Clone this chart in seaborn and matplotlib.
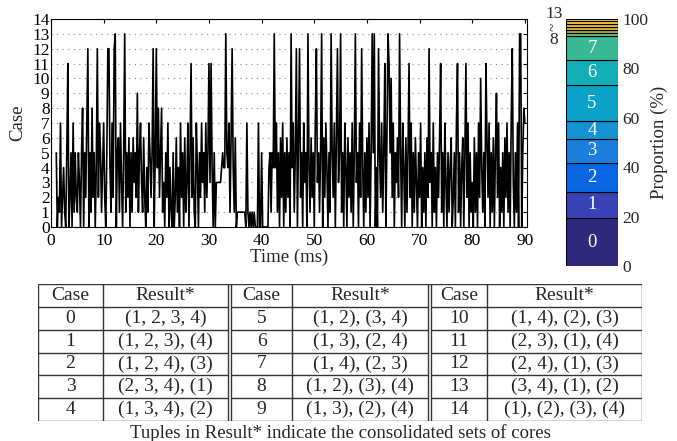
import numpy as np
import pandas as pd
import matplotlib
matplotlib.use("Agg")
import matplotlib.pyplot as plt
import seaborn as sns

sns.set_theme(style="white")
plt.rcParams["font.family"] = ["Liberation Serif", "DejaVu Serif"]
plt.rcParams["mathtext.fontset"] = "stix"

# ---------------- data ----------------
time_start_ms = 1.0
time_step_ms = 0.2
case_seq = [
    5, 0, 2, 1, 7,     0, 2, 4, 1, 0,     5, 11, 0, 2, 5,    0, 7, 1, 5, 2,
    1, 5, 3, 0, 5,     8, 0, 5, 2, 7,     12, 0, 5, 1, 8,    2, 5, 0, 4, 12,
    2, 7, 5, 1, 4,     7, 2, 0, 5, 12,    12, 4, 1, 7, 2,    12, 13, 0, 5, 6,
    1, 7, 3, 0, 5,     13, 1, 5, 2, 6,    0, 5, 1, 6, 3,     5, 2, 9, 1, 5,
    7, 3, 1, 6, 2,     0, 4, 1, 7, 5,     2, 5, 12, 0, 5,    12, 4, 8, 2, 5,
    8, 1, 3, 0, 5,     2, 7, 0, 4, 1,     0, 5, 0, 2, 6,     1, 4, 0, 7, 2,
    5, 0, 6, 1, 3,     7, 0, 5, 11, 2,    6, 1, 0, 7, 4,     0, 5, 2, 7, 3,
    5, 1, 7, 2, 5,     11, 3, 11, 4, 0,   5, 0, 3, 3, 3,     3, 3, 4, 5, 4,
    4, 13, 5, 4, 7,    1, 6, 12, 4, 1,    6, 0, 1, 1, 1,     1, 1, 1, 1, 1,
    0, 7, 1, 0, 1,     0, 1, 0, 1, 0,     0, 0, 7, 0, 0,     5, 0, 0, 0, 0,
    0, 0, 4, 5, 1,     5, 4, 13, 4, 7,    1, 5, 0, 6, 2,     7, 0, 5, 1, 6,
    2, 5, 0, 13, 4,    7, 1, 5, 12, 0,    6, 12, 2, 5, 0,    7, 3, 5, 0, 13,
    4, 1, 6, 2, 5,     0, 7, 12, 3, 5,    1, 5, 13, 0, 6,    2, 7, 4, 0, 5,
    1, 13, 5, 2, 7,    0, 6, 12, 3, 5,    13, 1, 5, 0, 7,    4, 0, 6, 2, 5,
    1, 7, 0, 5, 13,    3, 5, 0, 7, 2,     12, 4, 0, 5, 1,    6, 2, 7, 0, 5,
    13, 5, 13, 0, 4,   0, 12, 5, 2, 7,    1, 5, 11, 0, 6,    13, 11, 5, 10, 2,
    7, 0, 5, 3, 6,     2, 13, 5, 0, 7,    4, 0, 6, 1, 5,     11, 2, 7, 0, 5,
    1, 6, 3, 0, 5,     2, 7, 0, 4, 1,     5, 0, 6, 2, 12,    3, 5, 0, 7, 1,
    4, 0, 5, 2, 6,     11, 1, 5, 0, 7,    3, 0, 5, 1, 4,     6, 0, 2, 5, 0,
    7, 11, 1, 5, 0,    4, 6, 0, 5, 11,    2, 7, 0, 5, 1,     3, 0, 6, 1, 5,
    0, 7, 2, 10, 4,    1, 5, 0, 11, 6,    2, 7, 0, 5, 1,     6, 0, 5, 9, 2,
    7, 0, 4, 1, 5,     0, 6, 2, 7, 1,     5, 0, 7, 12, 3,    0, 5, 1, 7, 0,
    13, 13, 0, 5, 8,   7,
]
time_ms = time_start_ms + time_step_ms * np.arange(len(case_seq))

prop_cases = list(range(14))
prop_pct = [19.3, 10.8, 11.8, 9.5, 7.3, 14.5, 10.1, 9.7, 1.5, 1.0, 1.3, 1.2, 1.0, 1.0]
prop_colors = ["#2e2a7e", "#3743b4", "#0866e2", "#1c7edd", "#1592d2", "#0aa2c8",
               "#14afb6", "#38b896", "#6fc072", "#a8a84a", "#e8b240", "#f2bb3c",
               "#f7c443", "#fbcd4a"]

table_cases = list(range(15))
table_results = ["(1, 2, 3, 4)", "(1, 2, 3), (4)", "(1, 2, 4), (3)", "(2, 3, 4), (1)",
                 "(1, 3, 4), (2)", "(1, 2), (3, 4)", "(1, 3), (2, 4)", "(1, 4), (2, 3)",
                 "(1, 2), (3), (4)", "(1, 3), (2), (4)", "(1, 4), (2), (3)",
                 "(2, 3), (1), (4)", "(2, 4), (1), (3)", "(3, 4), (1), (2)",
                 "(1), (2), (3), (4)"]
caption = "Tuples in Result* indicate the consolidated sets of cores"

# ---------------- figure ----------------
W, H = 677, 441
fig = plt.figure(figsize=(W / 100, H / 100), dpi=100)
fig.patch.set_facecolor("white")

TICK_FS = 12.5
LABEL_FS = 13.5

# main time-series axes
ax = fig.add_axes([51 / W, 1 - 227 / H, 476 / W, 208 / H])
df = pd.DataFrame({"time": time_ms, "case": case_seq})
sns.lineplot(data=df, x="time", y="case", ax=ax, color="black", lw=1.2,
             estimator=None, sort=False)
ax.set_xlim(0, 90.4)
ax.set_ylim(0, 14)
ax.set_xticks(range(0, 91, 10))
ax.set_yticks(range(0, 15))
for yv in range(1, 14):
    ax.axhline(yv, color="#888888", lw=0.8, ls=(0, (1, 4)), zorder=0)
ax.tick_params(direction="in", length=3, width=0.8, top=True, right=True,
               labelsize=TICK_FS, colors="black")
ax.tick_params(axis="x", pad=4)
ax.tick_params(axis="y", pad=1)
for s in ax.spines.values():
    s.set_color("black")
    s.set_linewidth(0.8)
ax.set_xlabel("Time (ms)", fontsize=LABEL_FS, labelpad=0)
ax.set_ylabel("Case", fontsize=LABEL_FS, labelpad=4)
ax.set_facecolor("white")

# stacked proportion bar
bx = fig.add_axes([566 / W, 1 - 266 / H, 52 / W, 247 / H])
bottom = 0.0
for c, p, col in zip(prop_cases, prop_pct, prop_colors):
    bx.bar([0], [p], bottom=bottom, width=1.0, color=col, edgecolor="black",
           linewidth=0.8)
    if c <= 7:
        bx.text(0, bottom + p / 2, str(c), color="white", ha="center",
                va="center", fontsize=13.5)
    bottom += p
bx.set_xlim(-0.5, 0.5)
bx.set_ylim(0, 100)
bx.set_xticks([])
bx.set_yticks(range(0, 101, 20))
bx.yaxis.tick_right()
bx.yaxis.set_label_position("right")
bx.tick_params(axis="y", length=0, labelsize=TICK_FS, pad=3)
bx.set_ylabel("Proportion (%)", fontsize=LABEL_FS, labelpad=2)
for s in bx.spines.values():
    s.set_visible(False)
bx.text(-0.73, 102.0, "13", ha="center", va="center", fontsize=12.5, clip_on=False)
bx.text(-0.73, 96.8, "~", ha="center", va="center", fontsize=11, rotation=90,
        clip_on=False)
bx.text(-0.73, 91.6, "8", ha="center", va="center", fontsize=12.5, clip_on=False)

# table
tax = fig.add_axes([38 / W, 1 - 421 / H, 604 / W, 137 / H])
TW, TH = 604, 137
tax.set_xlim(0, TW)
tax.set_ylim(TH, 0)
tax.axis("off")
lc = "#333333"
lw = 1.0
groups = [(0, 65, 190), (193, 254, 390), (393, 449, 604)]
nrows = 6
row_h = TH / nrows
tax.hlines([0, TH], 0, TW, color=lc, lw=lw)
for gl, gm, gr in groups:
    for r in range(1, nrows):
        tax.hlines(r * row_h, gl, gr, color=lc, lw=lw)
    tax.vlines([gl, gm, gr], 0, TH, color=lc, lw=lw)
for g, (gl, gm, gr) in enumerate(groups):
    tax.text((gl + gm) / 2, row_h / 2, "Case", ha="center", va="center", fontsize=14)
    tax.text((gm + gr) / 2, row_h / 2, "Result*", ha="center", va="center", fontsize=14)
    for r in range(5):
        idx = g * 5 + r
        yc = (r + 1.5) * row_h
        tax.text((gl + gm) / 2, yc, str(table_cases[idx]), ha="center",
                 va="center", fontsize=14)
        tax.text((gm + gr) / 2, yc, table_results[idx], ha="center",
                 va="center", fontsize=14)

fig.text(340 / W, 1 - 433 / H, caption, ha="center", va="center", fontsize=13.5)

fig.savefig("out.png", dpi=100, facecolor="white")
